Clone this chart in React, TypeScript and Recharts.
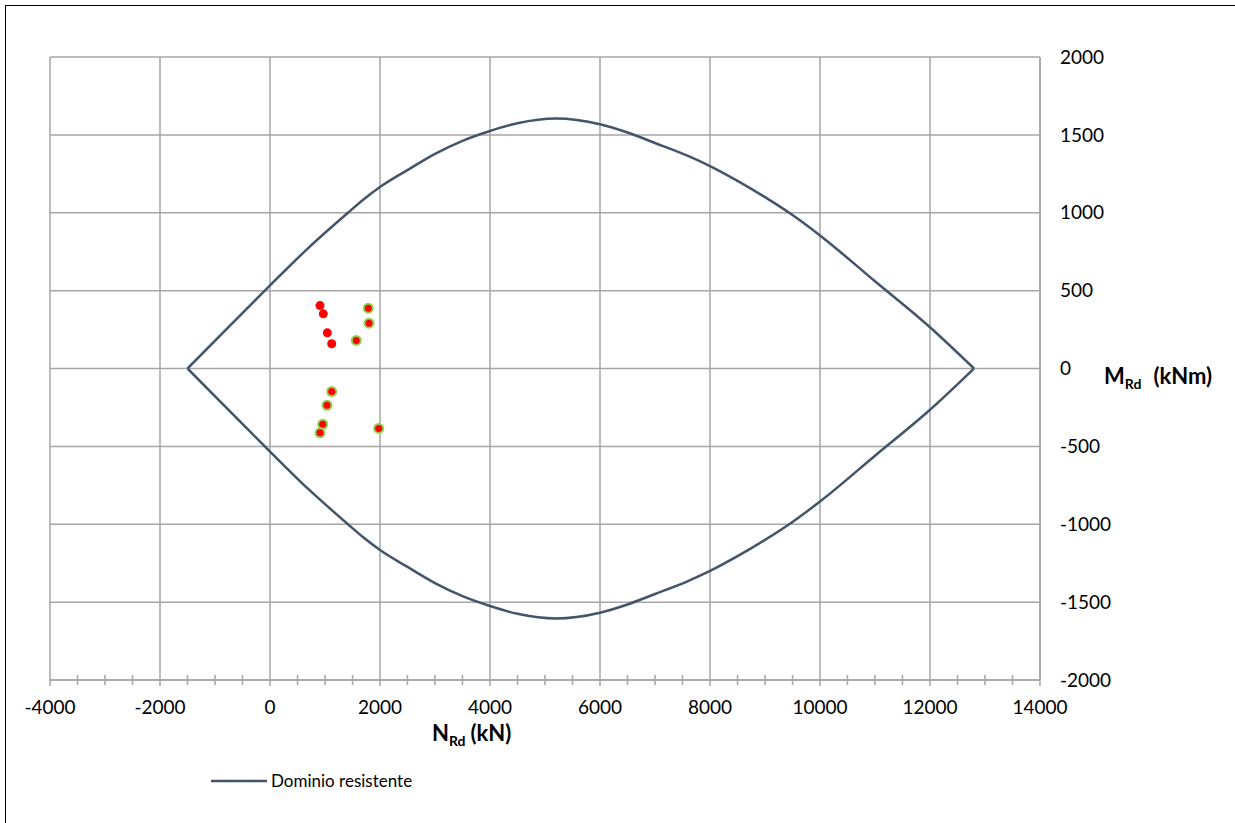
import React from 'react';
import {
  ComposedChart,
  Line,
  Scatter,
  XAxis,
  YAxis,
  CartesianGrid,
  Legend,
  Label,
} from 'recharts';

// interaction domain, upper and lower branch (N in kN, M in kNm)
const domainN = [-1500, -750, 0, 700, 1418, 1700, 2000, 2500, 3000, 3500, 4000, 4500, 5200, 6000, 6500, 7000, 7600, 8000, 8500, 9000, 9500, 10000, 11000, 12000, 12800];
const domainMTop = [0, 267, 533, 775, 1000, 1085, 1165, 1274, 1378, 1462, 1525, 1575, 1605, 1568, 1515, 1448, 1365, 1300, 1205, 1100, 985, 854, 560, 265, 0];
const domainMBottom = [0, -267, -533, -775, -1000, -1085, -1165, -1274, -1378, -1462, -1525, -1575, -1605, -1568, -1515, -1448, -1365, -1300, -1205, -1100, -985, -854, -560, -265, 0];

// load points
const loadsAN = [909, 969, 1042, 1122];
const loadsAM = [404, 351, 229, 159];
const loadsBN = [1787, 1800, 1569, 1122, 1036, 958, 909, 1976];
const loadsBM = [387, 291, 180, -148, -236, -358, -413, -385];

const xMajorTicks = [-4000, -2000, 0, 2000, 4000, 6000, 8000, 10000, 12000, 14000];
const xMinorTicks = [-3500, -3000, -2500, -1500, -1000, -500, 500, 1000, 1500, 2500, 3000, 3500, 4500, 5000, 5500, 6500, 7000, 7500, 8500, 9000, 9500, 10500, 11000, 11500, 12500, 13000, 13500];
const yTicks = [-2000, -1500, -1000, -500, 0, 500, 1000, 1500, 2000];

const topData = domainN.map((n, i) => ({ n, m: domainMTop[i] }));
const bottomData = domainN.map((n, i) => ({ n, m: domainMBottom[i] }));
const loadsA = loadsAN.map((n, i) => ({ n, m: loadsAM[i] }));
const loadsB = loadsBN.map((n, i) => ({ n, m: loadsBM[i] }));
const xTicks = [...xMajorTicks, ...xMinorTicks].sort((a, b) => a - b);

const FONT = 'Lato, "Open Sans", sans-serif';
const GRID = '#a6a6a6';
const LINE = '#44546a';

const XTick = (props: any) => {
  const { x, y, payload } = props;
  const major = xMajorTicks.includes(payload.value);
  if (!major) {
    return <line x1={x} x2={x} y1={y - 5} y2={y + 5} stroke={GRID} strokeWidth={1.5} />;
  }
  return (
    <g>
      <line x1={x} x2={x} y1={y} y2={y + 6} stroke={GRID} strokeWidth={1.5} />
      <text x={x} y={y + 34} textAnchor="middle" fontFamily={FONT} fontSize={19} fill="#000">
        {payload.value}
      </text>
    </g>
  );
};

const XTitle = (props: any) => {
  const { viewBox } = props;
  return (
    <text x={viewBox.x + 382} y={viewBox.y + 61} fontFamily={FONT} fontSize={22} fontWeight={700} fill="#000">
      <tspan>N</tspan>
      <tspan fontSize={14} dy={5}>Rd</tspan>
      <tspan dy={-5} dx={5}>(kN)</tspan>
    </text>
  );
};

const YTitle = (props: any) => {
  const { viewBox } = props;
  return (
    <text x={viewBox.x + 64} y={viewBox.y + viewBox.height / 2 + 15} fontFamily={FONT} fontSize={22} fontWeight={700} fill="#000">
      <tspan>M</tspan>
      <tspan fontSize={14} dy={5}>Rd</tspan>
      <tspan dy={-5} dx={12}>(kNm)</tspan>
    </text>
  );
};

const Dot = (color: string, stroke?: string) => (props: any) => (
  <circle
    cx={props.cx}
    cy={props.cy}
    r={4.5}
    fill={color}
    stroke={stroke || 'none'}
    strokeWidth={stroke ? 2 : 0}
  />
);

const LegendContent = (props: any) => {
  const items = (props.payload || []).filter((p: any) => p.type !== 'none');
  return (
    <div style={{ display: 'flex', alignItems: 'center', fontFamily: FONT, fontSize: 17 }}>
      {items.map((p: any) => (
        <div key={p.value} style={{ display: 'flex', alignItems: 'center' }}>
          <svg width={58} height={6}>
            <line x1={0} x2={56} y1={3} y2={3} stroke={p.color} strokeWidth={2.5} />
          </svg>
          <span style={{ marginLeft: 2 }}>{p.value}</span>
        </div>
      ))}
    </div>
  );
};

export default function App() {
  return (
    <div style={{ position: 'absolute', left: 0, top: 0, width: 1235, height: 823, background: '#fff' }}>
      <div
        style={{
          position: 'absolute',
          left: 5,
          top: 5,
          width: 1240,
          height: 830,
          borderLeft: '1.5px solid #000',
          borderTop: '1.5px solid #000',
        }}
      />
      <ComposedChart
        width={1235}
        height={823}
        margin={{ top: 57, right: 0, left: 50, bottom: 0 }}
        style={{ position: 'absolute', left: 0, top: 0 }}
      >
        <CartesianGrid
          stroke={GRID}
          strokeWidth={1.5}
          horizontalValues={yTicks}
          verticalValues={xMajorTicks}
        />
        <XAxis
          type="number"
          dataKey="n"
          domain={[-4000, 14000]}
          ticks={xTicks}
          interval={0}
          allowDataOverflow
          height={143}
          tickLine={false}
          tickSize={0}
          tickMargin={0}
          tick={<XTick />}
          axisLine={{ stroke: GRID, strokeWidth: 1.5 }}
        >
          <Label content={<XTitle />} />
        </XAxis>
        <YAxis
          type="number"
          dataKey="m"
          orientation="right"
          domain={[-2000, 2000]}
          ticks={yTicks}
          interval={0}
          allowDataOverflow
          width={195}
          tickLine={false}
          tickSize={0}
          tickMargin={20}
          tick={{ fontFamily: FONT, fontSize: 19, fill: '#000' }}
          axisLine={{ stroke: GRID, strokeWidth: 1.5 }}
        >
          <Label content={<YTitle />} />
        </YAxis>
        <Line
          data={topData}
          dataKey="m"
          name="Dominio resistente"
          type="monotone"
          stroke={LINE}
          strokeWidth={2.5}
          dot={false}
          isAnimationActive={false}
        />
        <Line
          data={bottomData}
          dataKey="m"
          name="Dominio inferiore"
          legendType="none"
          type="monotone"
          stroke={LINE}
          strokeWidth={2.5}
          dot={false}
          isAnimationActive={false}
        />
        <Scatter data={loadsA} name="Sollecitazioni A" legendType="none" shape={Dot('#ff0000')} isAnimationActive={false} />
        <Scatter data={loadsB} name="Sollecitazioni B" legendType="none" shape={Dot('#ff0000', '#92d050')} isAnimationActive={false} />
        <Legend
          layout="horizontal"
          align="center"
          verticalAlign="middle"
          wrapperStyle={{ left: 211, top: 770, width: 320 }}
          content={<LegendContent />}
        />
      </ComposedChart>
    </div>
  );
}
